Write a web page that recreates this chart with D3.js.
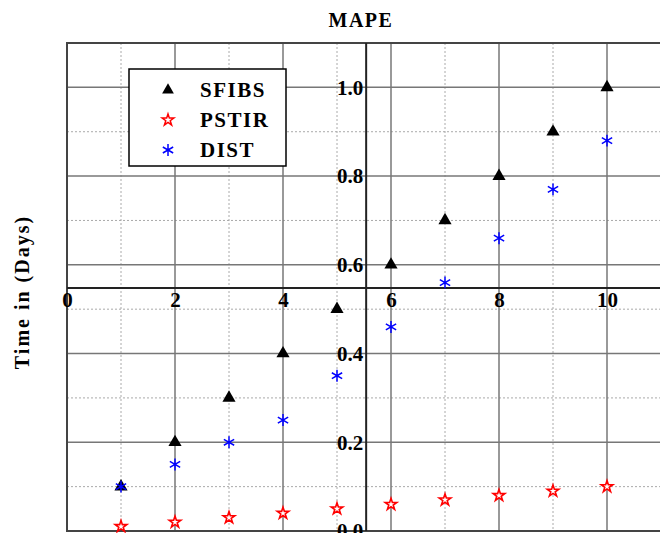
<!DOCTYPE html>
<html>
<head>
<meta charset="utf-8">
<script src="https://cdn.jsdelivr.net/npm/d3@7"></script>
<style>
  html, body { margin: 0; padding: 0; background: #fff; }
  text { font-family: "Liberation Serif", "Times New Roman", serif; font-weight: bold; }
</style>
</head>
<body>
<svg id="chart" width="660" height="533"></svg>
<script>
// data
var xValues = [1, 2, 3, 4, 5, 6, 7, 8, 9, 10];
var sfibs = [0.1, 0.2, 0.3, 0.4, 0.5, 0.6, 0.7, 0.8, 0.9, 1.0];
var pstir = [0.01, 0.02, 0.03, 0.04, 0.05, 0.06, 0.07, 0.08, 0.09, 0.1];
var dist = [0.1, 0.15, 0.2, 0.25, 0.35, 0.46, 0.56, 0.66, 0.77, 0.88];
var xTicks = [0, 2, 4, 6, 8, 10];
var xMinor = [1, 3, 5, 7, 9];
var yTicks = [0, 0.2, 0.4, 0.6, 0.8, 1.0];
var yMinor = [0.1, 0.3, 0.5, 0.7, 0.9];
var seriesNames = ["SFIBS", "PSTIR", "DIST"];

var svg = d3.select("#chart");

// scales
var x = d3.scaleLinear().domain([0, 11]).range([67, 661]);
var y = d3.scaleLinear().domain([0, 1.1]).range([531, 43]);
var xCross = 5.54, yCross = 0.548;   // where the axes meet

// grid
var grid = svg.append("g");
grid.selectAll(".vminor").data(xMinor).enter().append("line")
	.attr("x1", d => x(d)).attr("x2", d => x(d))
	.attr("y1", y(1.1)).attr("y2", y(0))
	.attr("stroke", "#aaa").attr("stroke-width", 1).attr("stroke-dasharray", "2,2");
grid.selectAll(".hminor").data(yMinor).enter().append("line")
	.attr("y1", d => y(d)).attr("y2", d => y(d))
	.attr("x1", x(0)).attr("x2", x(11))
	.attr("stroke", "#aaa").attr("stroke-width", 1).attr("stroke-dasharray", "2,2");
grid.selectAll(".vmajor").data(xTicks.slice(1)).enter().append("line")
	.attr("x1", d => x(d)).attr("x2", d => x(d))
	.attr("y1", y(1.1)).attr("y2", y(0))
	.attr("stroke", "#777").attr("stroke-width", 1.5);
grid.selectAll(".hmajor").data(yTicks.slice(1)).enter().append("line")
	.attr("y1", d => y(d)).attr("y2", d => y(d))
	.attr("x1", x(0)).attr("x2", x(11))
	.attr("stroke", "#777").attr("stroke-width", 1.5);

// frame
svg.append("rect")
	.attr("x", x(0)).attr("y", y(1.1))
	.attr("width", x(11) - x(0)).attr("height", y(0) - y(1.1))
	.attr("fill", "none").attr("stroke", "#444").attr("stroke-width", 2);

// crossing axes
var xAxis = d3.axisBottom(x).tickValues(xTicks).tickSize(0).tickPadding(4).tickFormat(d3.format("d"));
var gx = svg.append("g").attr("transform", "translate(0," + y(yCross) + ")").call(xAxis);
gx.select(".domain").remove();
svg.append("line")
	.attr("x1", x(0)).attr("x2", x(11)).attr("y1", y(yCross)).attr("y2", y(yCross))
	.attr("stroke", "#222").attr("stroke-width", 2);

var yAxis = d3.axisLeft(y).tickValues(yTicks).tickSize(0).tickPadding(3).tickFormat(d3.format(".1f"));
var gy = svg.append("g").attr("transform", "translate(" + x(xCross) + ",0)").call(yAxis);
gy.select(".domain").remove();
svg.append("line")
	.attr("x1", x(xCross)).attr("x2", x(xCross)).attr("y1", y(1.1)).attr("y2", y(0))
	.attr("stroke", "#222").attr("stroke-width", 2);

svg.selectAll(".tick text")
	.attr("font-size", 21).attr("font-family", "Liberation Serif, serif")
	.attr("font-weight", "bold").attr("fill", "#000");

// markers
var triangle = d3.symbol().type(d3.symbolTriangle).size(75);
var star = d3.symbol().type(d3.symbolStar).size(42);
var aster = d3.symbol().type(d3.symbolAsterisk).size(100);

svg.append("g").selectAll("path").data(pstir).enter().append("path")
	.attr("d", star)
	.attr("transform", (d, i) => "translate(" + x(xValues[i]) + "," + y(d) + ")")
	.attr("fill", "#fff").attr("stroke", "#f00").attr("stroke-width", 1.6);
svg.append("g").selectAll("path").data(sfibs).enter().append("path")
	.attr("d", triangle)
	.attr("transform", (d, i) => "translate(" + x(xValues[i]) + "," + y(d) + ")")
	.attr("fill", "#000");
svg.append("g").selectAll("path").data(dist).enter().append("path")
	.attr("d", aster)
	.attr("transform", (d, i) => "translate(" + x(xValues[i]) + "," + y(d) + ")")
	.attr("fill", "none").attr("stroke", "#00f").attr("stroke-width", 1.5);

// legend
var legend = svg.append("g").attr("transform", "translate(129,69)");
legend.append("rect").attr("width", 157).attr("height", 97)
	.attr("fill", "#fff").attr("stroke", "#000").attr("stroke-width", 1.5);
var rows = legend.selectAll("g.row").data(seriesNames).enter().append("g")
	.attr("transform", (d, i) => "translate(0," + (21 + i * 30) + ")");
rows.append("path")
	.attr("transform", "translate(39,0)")
	.attr("d", (d, i) => [d3.symbol().type(d3.symbolTriangle).size(60)(), star(), aster()][i])
	.attr("fill", (d, i) => ["#000", "#fff", "none"][i])
	.attr("stroke", (d, i) => ["none", "#f00", "#00f"][i])
	.attr("stroke-width", 1.5);
rows.append("text")
	.attr("x", 71).attr("dy", "0.35em")
	.attr("font-size", 21).attr("letter-spacing", 1.5)
	.text(d => d);

// title and y label
svg.append("text")
	.attr("x", 361).attr("y", 27)
	.attr("text-anchor", "middle").attr("font-size", 20).attr("letter-spacing", 1.5)
	.text("MAPE");
svg.append("text")
	.attr("transform", "translate(29,292) rotate(-90)")
	.attr("text-anchor", "middle").attr("font-size", 20).attr("letter-spacing", 2)
	.text("Time in (Days)");
</script>
</body>
</html>
